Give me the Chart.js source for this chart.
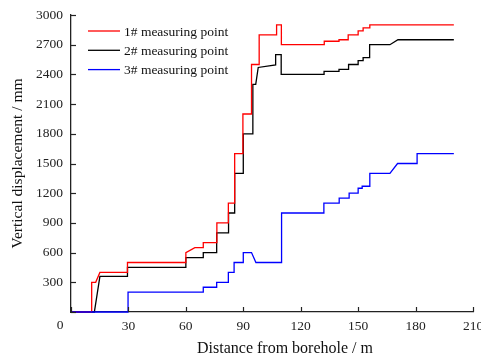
<!DOCTYPE html>
<html lang="en">
<head>
    <meta charset="utf-8">
    <script src="https://cdn.jsdelivr.net/npm/chart.js@4.4.1/dist/chart.umd.min.js"></script>
    <style>
        html, body { margin: 0; padding: 0; background: #fff; }
        #wrap { width: 481px; height: 360px; }
    </style>
</head>
<body>
<div id="wrap"><canvas id="myChart" width="481" height="360"></canvas></div>
<script>
// ticks
var xTicks = [0, 30, 60, 90, 120, 150, 180, 210];
var yTicks = [0, 300, 600, 900, 1200, 1500, 1800, 2100, 2400, 2700, 3000];

var seriesNames = ['1# measuring point', '2# measuring point', '3# measuring point'];
var xTitle = 'Distance from borehole / m';
var yTitle = 'Vertical displacement / mm';

// 1# measuring point (vertices of the step line)
var x1 = [0, 10.8, 10.8, 12.9, 15.1, 29.5, 29.5, 60, 60, 64.7, 69.1, 69.1, 76.2, 76.2, 82.2, 82.2, 85.5, 85.5, 89.8, 89.8,
          94.3, 94.3, 98.3, 98.3, 107.4, 107.4, 109.9, 109.9, 132.3, 132.3, 140, 140, 144.8, 144.8, 150, 150, 152.6, 152.6, 156.1, 156.1, 200];
var y1 = [0, 0, 300, 300, 400, 400, 500, 500, 600, 650, 650, 700, 700, 900, 900, 1100, 1100, 1600, 1600, 2000,
          2000, 2500, 2500, 2800, 2800, 2900, 2900, 2700, 2700, 2735, 2735, 2750, 2750, 2800, 2800, 2840, 2840, 2870, 2870, 2900, 2900];

// 2# measuring point
var x2 = [0, 12.2, 15.1, 29.5, 29.5, 60, 60, 69.1, 69.1, 76.1, 76.1, 82.3, 82.3, 85.5, 85.5, 90, 90, 95, 95, 96.5,
          97.8, 106.9, 106.9, 109.8, 109.8, 132.2, 132.2, 140, 140, 145, 145, 150, 150, 152.6, 152.6, 156, 156, 166.6, 170.8, 200];
var y2 = [0, 0, 360, 360, 450, 450, 550, 550, 600, 600, 800, 800, 1000, 1000, 1400, 1400, 1800, 1800, 2300, 2300,
          2470, 2495, 2600, 2600, 2400, 2400, 2430, 2430, 2450, 2450, 2500, 2500, 2540, 2540, 2570, 2570, 2700, 2700, 2750, 2750];

// 3# measuring point
var x3 = [0, 29.8, 29.8, 69.1, 69.1, 76.1, 76.1, 82.2, 82.2, 85.2, 85.2, 90, 90, 94.3, 96.6, 110, 110, 132.1, 132.1, 140.1,
          140.1, 145.3, 145.3, 150, 150, 152.1, 152.1, 156.1, 156.1, 166.6, 170.6, 180.8, 180.8, 200];
var y3 = [0, 0, 200, 200, 250, 250, 300, 300, 400, 400, 500, 500, 600, 600, 500, 500, 1000, 1000, 1100, 1100,
          1150, 1150, 1200, 1200, 1250, 1250, 1270, 1270, 1400, 1400, 1500, 1500, 1600, 1600];

var colors = ['#ff0000', '#000000', '#0000ff'];

function toPoints(xs, ys) {
    return xs.map(function(x, i) { return { x: x, y: ys[i] }; });
}

var serif = "'Liberation Serif', 'Times New Roman', serif";

// inward ticks, legend inside the plot, the shared origin "0" and the x title
var extras = {
    id: 'extras',
    afterDatasetsDraw: function(chart) {
        var ctx = chart.ctx;
        var xs = chart.scales.x, ys = chart.scales.y;
        var area = chart.chartArea;
        ctx.save();
        ctx.strokeStyle = '#222';
        ctx.lineWidth = 1.2;
        xTicks.forEach(function(v) {
            var px = Math.round(xs.getPixelForValue(v)) + 0.5;
            ctx.beginPath();
            ctx.moveTo(px, area.bottom);
            ctx.lineTo(px, area.bottom - 5);
            ctx.stroke();
        });
        yTicks.forEach(function(v) {
            var py = Math.round(ys.getPixelForValue(v)) + 0.5;
            ctx.beginPath();
            ctx.moveTo(area.left, py);
            ctx.lineTo(area.left + 5, py);
            ctx.stroke();
        });

        ctx.font = '13.5px ' + serif;
        ctx.fillStyle = '#222';
        ctx.textAlign = 'center';
        ctx.textBaseline = 'middle';
        ctx.fillText('0', xs.getPixelForValue(0) - 11, area.bottom + 13);

        // x title, a little right of centre as in the original
        ctx.font = '16px ' + serif;
        ctx.fillStyle = '#111';
        ctx.fillText(xTitle, (area.left + area.right) / 2 + 13, 349);

        // legend
        ctx.font = '13.5px ' + serif;
        ctx.textAlign = 'left';
        chart.data.datasets.forEach(function(ds, i) {
            var ly = area.top + 16 + i * 19.3;
            ctx.strokeStyle = ds.borderColor;
            ctx.lineWidth = 1.3;
            ctx.beginPath();
            ctx.moveTo(area.left + 17, ly);
            ctx.lineTo(area.left + 49, ly);
            ctx.stroke();
            ctx.fillStyle = '#111';
            ctx.fillText(ds.label, area.left + 53, ly + 1);
        });
        ctx.restore();
    }
};

var ctx = document.getElementById('myChart').getContext('2d');
var myChart = new Chart(ctx, {
    type: 'line',
    data: {
        datasets: [
            { label: seriesNames[0], data: toPoints(x1, y1), borderColor: colors[0], order: 1, clip: 4 },
            { label: seriesNames[1], data: toPoints(x2, y2), borderColor: colors[1], order: 2, clip: 4 },
            { label: seriesNames[2], data: toPoints(x3, y3), borderColor: colors[2], order: 0, clip: 4 }
        ]
    },
    options: {
        responsive: false,
        animation: false,
        layout: { padding: { top: 15, right: 8, left: 0, bottom: 0 } },
        elements: {
            point: { radius: 0, hitRadius: 0 },
            line: { borderWidth: 1.3, tension: 0, fill: false }
        },
        plugins: {
            legend: { display: false },
            tooltip: { enabled: false }
        },
        scales: {
            x: {
                type: 'linear',
                min: 0,
                max: 210,
                afterFit: function(s) { s.height = 48; s.paddingRight = 0; s.paddingLeft = 0; },
                afterBuildTicks: function(s) { s.ticks = xTicks.map(function(v) { return { value: v }; }); },
                grid: { display: true, drawOnChartArea: false, drawTicks: false },
                border: { display: true, color: '#222', width: 1.3 },
                ticks: {
                    padding: 6,
                    color: '#222',
                    font: { family: serif, size: 13.5 },
                    maxRotation: 0,
                    callback: function(v) { return v === 0 ? '' : v; }
                },
                title: { display: false }
            },
            y: {
                min: 0,
                max: 3000,
                afterFit: function(s) { s.width = 71; s.paddingTop = 0; s.paddingBottom = 0; },
                afterBuildTicks: function(s) { s.ticks = yTicks.map(function(v) { return { value: v }; }); },
                grid: { display: true, drawOnChartArea: false, drawTicks: false },
                border: { display: true, color: '#222', width: 1.3 },
                ticks: {
                    padding: 8,
                    color: '#222',
                    font: { family: serif, size: 13.5 },
                    callback: function(v) { return v === 0 ? '' : v; }
                },
                title: {
                    display: true,
                    text: yTitle,
                    color: '#111',
                    font: { family: serif, size: 15.5 },
                    padding: { top: 9, bottom: 4 }
                }
            }
        }
    },
    plugins: [extras]
});
</script>
</body>
</html>
